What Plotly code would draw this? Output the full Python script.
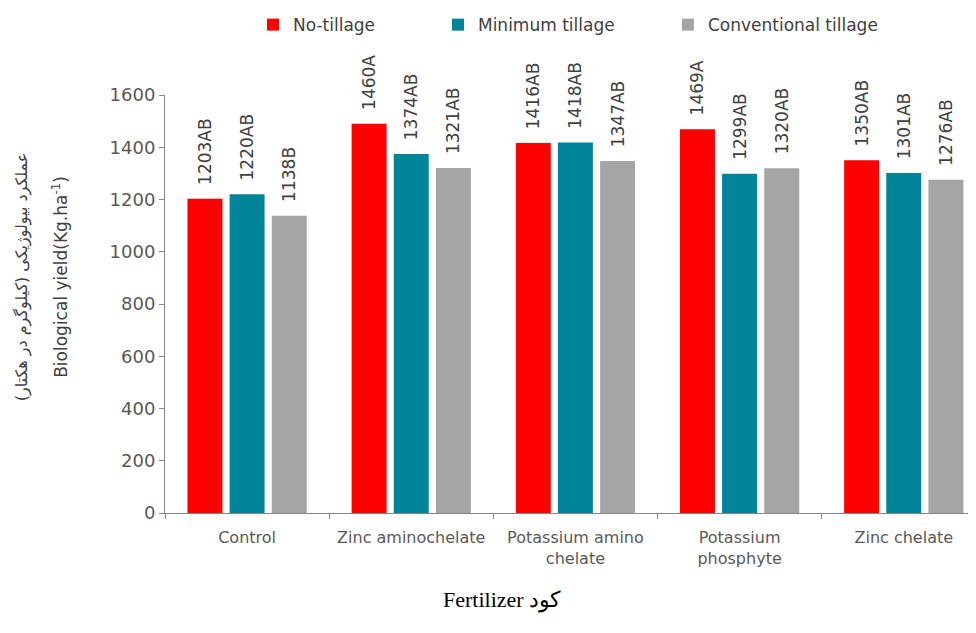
import plotly.graph_objects as go

categories = ["Control", "Zinc aminochelate", "Potassium amino<br>chelate",
              "Potassium<br>phosphyte", "Zinc chelate"]
series_names = ["No-tillage", "Minimum tillage", "Conventional tillage"]
no_tillage = [1203, 1490, 1416, 1469, 1350]
minimum_tillage = [1220, 1374, 1418, 1299, 1301]
conventional_tillage = [1138, 1321, 1347, 1320, 1276]
no_tillage_labels = ["1203AB", "1460A", "1416AB", "1469A", "1350AB"]
minimum_tillage_labels = ["1220AB", "1374AB", "1418AB", "1299AB", "1301AB"]
conventional_tillage_labels = ["1138B", "1321AB", "1347AB", "1320AB", "1276AB"]
y_ticks = [0, 200, 400, 600, 800, 1000, 1200, 1400, 1600]

colors = ["#FF0000", "#00849A", "#A5A5A5"]
series = [no_tillage, minimum_tillage, conventional_tillage]
labels = [no_tillage_labels, minimum_tillage_labels, conventional_tillage_labels]
legend_ids = ["legend", "legend2", "legend3"]
legend_x = [0.1085, 0.3366, 0.6201]

FONT = "DejaVu Sans"

fig = go.Figure()
for name, vals, labs, col, lg in zip(series_names, series, labels, colors, legend_ids):
    fig.add_trace(go.Bar(
        x=categories, y=vals, name=name, marker_color=col,
        marker_line_width=0, legend=lg,
        text=["  " + t for t in labs], textposition="outside", textangle=-90,
        constraintext="none",
        textfont=dict(family=FONT, size=17, color="#404040"),
        cliponaxis=False,
    ))

legend_common = dict(orientation="h", xanchor="left", yref="container", y=0.973,
                     yanchor="middle",
                     font=dict(family=FONT, size=17, color="#404040"),
                     bgcolor="rgba(0,0,0,0)")

fig.update_layout(
    width=976, height=633,
    paper_bgcolor="white", plot_bgcolor="white",
    margin=dict(l=157, r=8, t=87, b=128, autoexpand=False),
    barmode="group", bargap=0.23, bargroupgap=0.17,
    font=dict(family=FONT, color="#595959"),
    showlegend=True,
    legend=dict(x=legend_x[0], **legend_common),
    legend2=dict(x=legend_x[1], **legend_common),
    legend3=dict(x=legend_x[2], **legend_common),
    xaxis=dict(range=[-0.5, 4.44], showline=True, linecolor="#868686", linewidth=1,
               ticks="outside", tickson="boundaries", ticklen=5, tickcolor="#868686",
               tickangle=0, ticklabelstandoff=10,
               tickfont=dict(family=FONT, size=16, color="#595959"), showgrid=False),
    yaxis=dict(range=[0, 1600], tickvals=y_ticks, showline=True, linecolor="#868686",
               linewidth=1, ticks="outside", ticklen=5, tickcolor="#868686",
               tickfont=dict(family=FONT, size=18, color="#595959"), showgrid=False,
               zeroline=False),
)

fig.add_annotation(xref="paper", yref="paper", x=-0.1295, y=0.565, xanchor="center",
                   yanchor="middle", textangle=-90, showarrow=False,
                   text="Biological yield(Kg.ha<sup>-1</sup>)",
                   font=dict(family=FONT, size=17, color="#404040"))
fig.add_annotation(xref="paper", yref="paper", x=-0.177, y=0.565, xanchor="center",
                   yanchor="middle", textangle=-90, showarrow=False,
                   text="عملکرد بیولوژیکی (کیلوگرم در هکتار)",
                   font=dict(family=FONT, size=16, color="#404040"))
fig.add_annotation(xref="paper", yref="paper", x=0.4155, y=-0.208, xanchor="center",
                   yanchor="middle", showarrow=False,
                   text="Fertilizer کود",
                   font=dict(family="Liberation Serif", size=22, color="#000000"))

fig.write_html("out.html")
